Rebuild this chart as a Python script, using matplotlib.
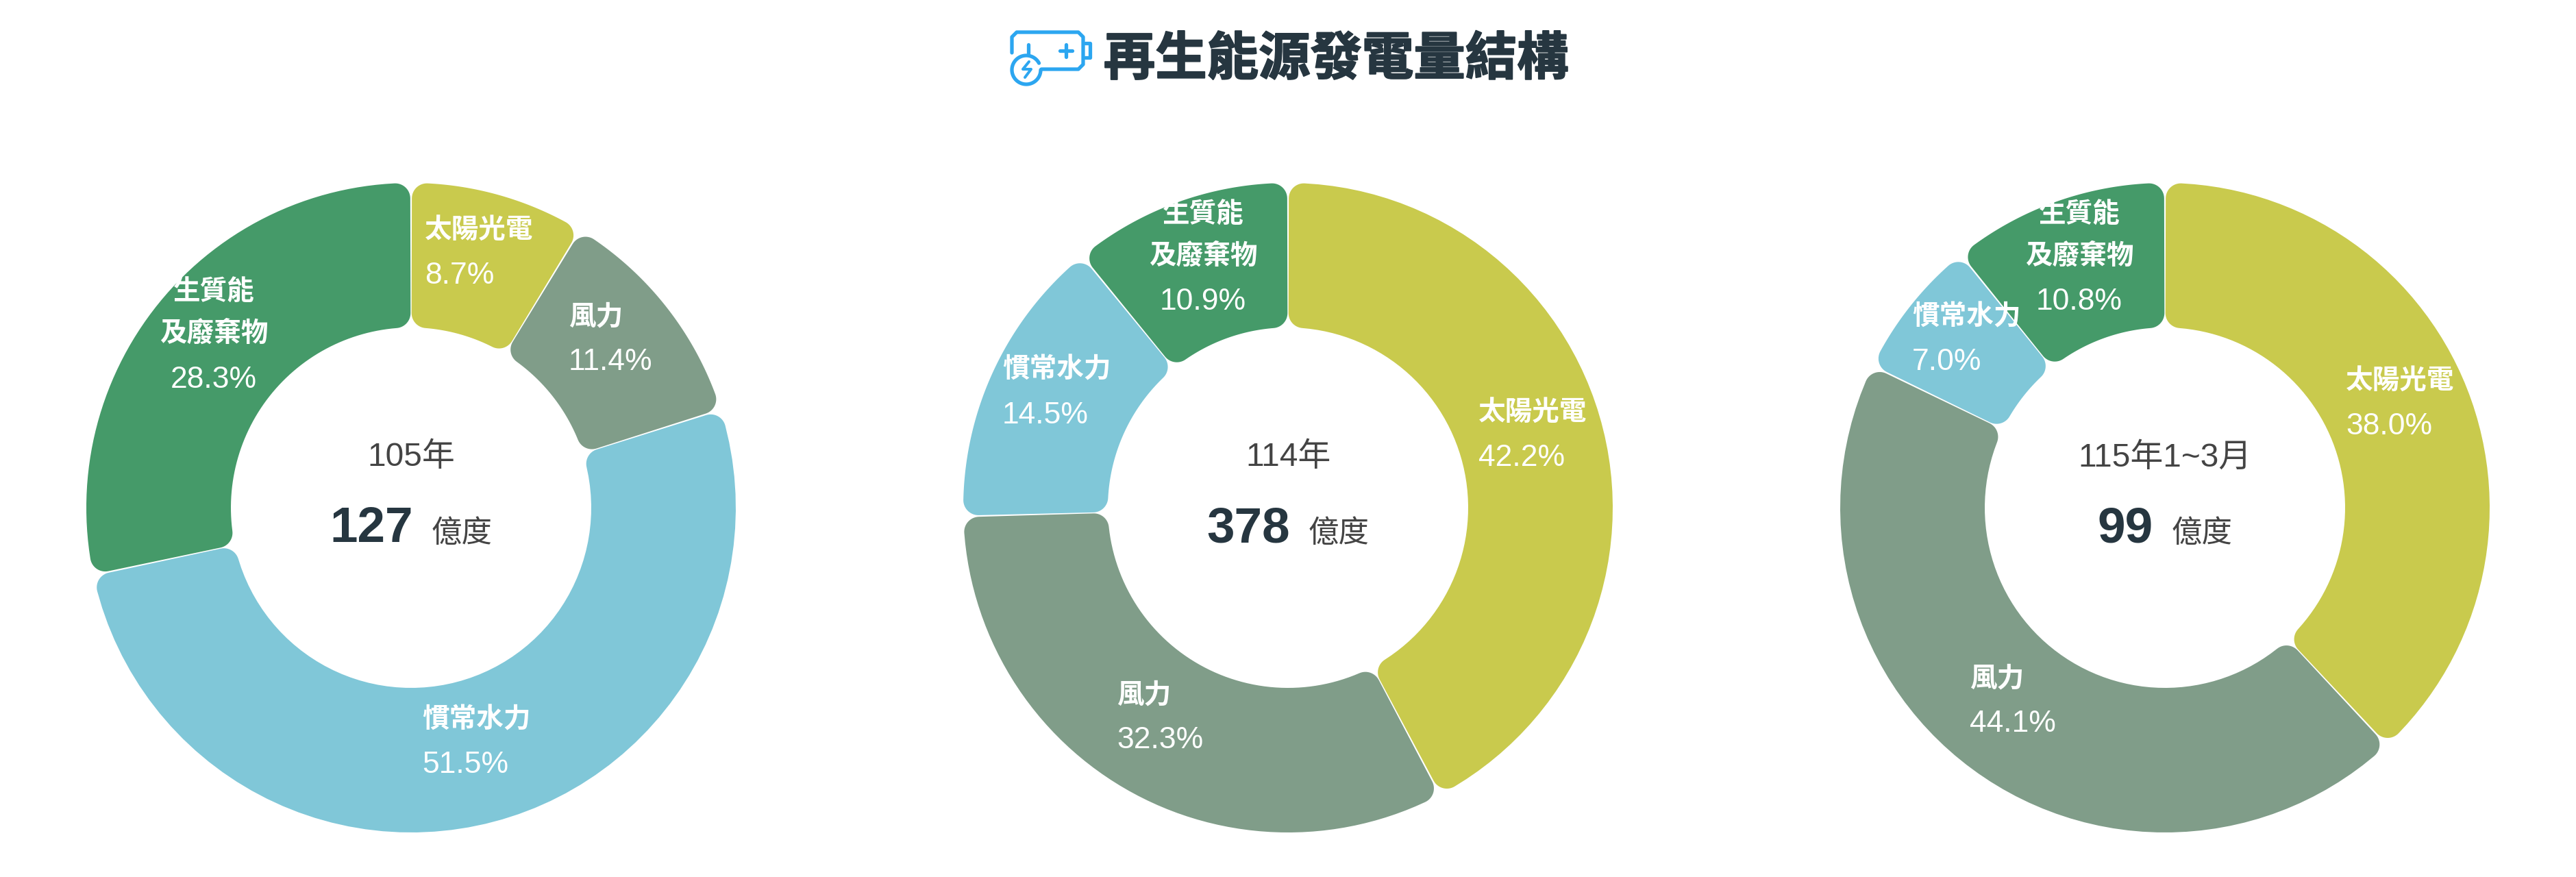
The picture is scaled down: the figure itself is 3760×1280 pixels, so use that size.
import matplotlib
matplotlib.use('Agg')
import matplotlib.pyplot as plt
import matplotlib.patheffects as pe
import numpy as np
from matplotlib.patches import Polygon

plt.rcParams['font.family'] = ['Liberation Sans', 'Noto Sans CJK TC']

# data
categories = ['太陽光電', '風力', '慣常水力', '生質能\n及廢棄物']
share_105 = [8.7, 11.4, 51.5, 28.3]
share_114 = [42.2, 32.3, 14.5, 10.9]
share_115 = [38.0, 44.1, 7.0, 10.8]
periods = ['105年', '114年', '115年1~3月']
totals = ['127', '378', '99']
title = '再生能源發電量結構'

colors = ['#C9CA4D', '#809D89', '#80C7D8', '#459A69']
DARK = '#263640'
GREY = '#444444'
W, H = 3760, 1280
CENTERS = [600, 1880, 3160]
CY = 741
R_OUT = 474
R_IN = 263
CORNER = 22

# left edge (or centre for the biomass label) and y of the first text line
label_pos = [
    [(620, 336), (830, 462), (616, 1050), (312, 427)],
    [(2158, 602), (1630, 1014), (1463, 539), (1756, 314)],
    [(3424, 556), (2875, 990), (2791, 462), (3035, 314)],
]


def arc(cx, cy, r, a0, a1, n=60):
    t = np.radians(np.linspace(a0, a1, n))
    return np.column_stack([cx + r * np.sin(t), cy + r * np.cos(t)])


def rounded_sector(cx, cy, r0, r1, a0, a1, c, gap=1.2):
    # angles clockwise from the top, in degrees
    a0 += np.degrees(gap / r1)
    a1 -= np.degrees(gap / r1)
    do = np.degrees(np.arcsin(c / (r1 - c)))
    di = np.degrees(np.arcsin(c / (r0 + c)))
    rad = lambda a: np.radians(a)
    pts = []

    def corner(r_c, a_c, start, stop):
        x = cx + r_c * np.sin(rad(a_c))
        y = cy + r_c * np.cos(rad(a_c))
        t = np.radians(np.linspace(start, stop, 16))
        pts.append(np.column_stack([x + c * np.sin(t), y + c * np.cos(t)]))

    # outer arc going clockwise, then inner arc back
    corner(r1 - c, a0 + do, a0 - 90, a0 + do)
    pts.append(arc(cx, cy, r1, a0 + do, a1 - do))
    corner(r1 - c, a1 - do, a1 - do, a1 + 90)
    corner(r0 + c, a1 - di, a1 + 90, a1 - di + 180)
    pts.append(arc(cx, cy, r0, a1 - di, a0 + di))
    corner(r0 + c, a0 + di, a0 + di + 180, a0 - 90 + 360)
    return np.vstack(pts)


fig = plt.figure(figsize=(W / 100, H / 100), dpi=100, facecolor='white')
ax = fig.add_axes([0, 0, 1, 1])

for i, values in enumerate([share_105, share_114, share_115]):
    cx = CENTERS[i]
    cy = H - CY
    wedges, _ = ax.pie(values, colors=colors, startangle=90, counterclock=False,
                       center=(cx, cy), radius=R_OUT,
                       wedgeprops={'width': R_OUT - R_IN})
    for wedge, color in zip(wedges, colors):
        # pie gives the angles, the corners are rounded here
        a0 = 90 - wedge.theta2
        a1 = 90 - wedge.theta1
        wedge.remove()
        ax.add_patch(Polygon(rounded_sector(cx, cy, R_IN, R_OUT, a0, a1, CORNER),
                             closed=True, fc=color, ec='none'))

    for j, name in enumerate(categories):
        x, y = label_pos[i][j]
        pct = f'{values[j]:.1f}%'
        if '\n' in name:
            lines = name.split('\n')
            ax.text(x, H - y, lines[0], color='white', fontsize=28.5, fontweight='bold',
                    ha='center', va='center')
            ax.text(x, H - y - 60, lines[1], color='white', fontsize=28.5, fontweight='bold',
                    ha='center', va='center')
            ax.text(x, H - y - 127, pct, color='white', fontsize=32, ha='center', va='center')
        else:
            ax.text(x, H - y, name, color='white', fontsize=28.5, fontweight='bold',
                    ha='left', va='center')
            ax.text(x, H - y - 67, pct, color='white', fontsize=32, ha='left', va='center')

    ax.text(cx, H - 668, periods[i], color=GREY, fontsize=34.5, ha='center', va='center')

    # number + unit are centred together under the period
    ax.set_xlim(0, W)
    ax.set_ylim(0, H)
    num = ax.text(cx, H - 772, totals[i], color=DARK, fontsize=52.5, fontweight='bold',
                  ha='left', va='center')
    unit = ax.text(cx, H - 779, '億度', color=GREY, fontsize=32, ha='left', va='center')
    renderer = fig.canvas.get_renderer()
    num_w = num.get_window_extent(renderer).width
    unit_w = unit.get_window_extent(renderer).width
    left = cx - (num_w + 26 + unit_w) / 2
    num.set_x(left)
    unit.set_x(left + num_w + 26)

# title and battery icon
ax.text(1950, H - 88, title, color=DARK, fontsize=54.3, fontweight='bold',
        ha='center', va='center',
        path_effects=[pe.withStroke(linewidth=1.4, foreground=DARK)])
blue = '#2CA6F0'
icon = dict(color=blue, lw=3.8, solid_capstyle='round', solid_joinstyle='round')
ax.plot([1477, 1477, 1484, 1574, 1581, 1581, 1574, 1520],
        [H - 77, H - 54, H - 47, H - 47, H - 54, H - 94, H - 101, H - 101], **icon)
ax.plot([1584, 1591, 1591, 1584], [H - 63, H - 63, H - 84, H - 84], **icon)
ax.plot([1501, 1501], [H - 65, H - 78], **icon)
ax.plot([1547, 1565], [H - 74, H - 74], **icon)
ax.plot([1556, 1556], [H - 65, H - 83], **icon)
ring = np.radians(np.linspace(28, 360, 80))
ax.plot(1498 + 21 * np.cos(ring), H - 102 + 21 * np.sin(ring), **icon)
ax.plot([1502, 1493, 1505, 1496], [H - 90, H - 101, H - 101, H - 113],
        color=blue, lw=2.9, solid_capstyle='round', solid_joinstyle='round')

ax.set_xlim(0, W)
ax.set_ylim(0, H)
ax.set_aspect('auto')
ax.axis('off')

fig.savefig('out.png', dpi=100, facecolor='white')
